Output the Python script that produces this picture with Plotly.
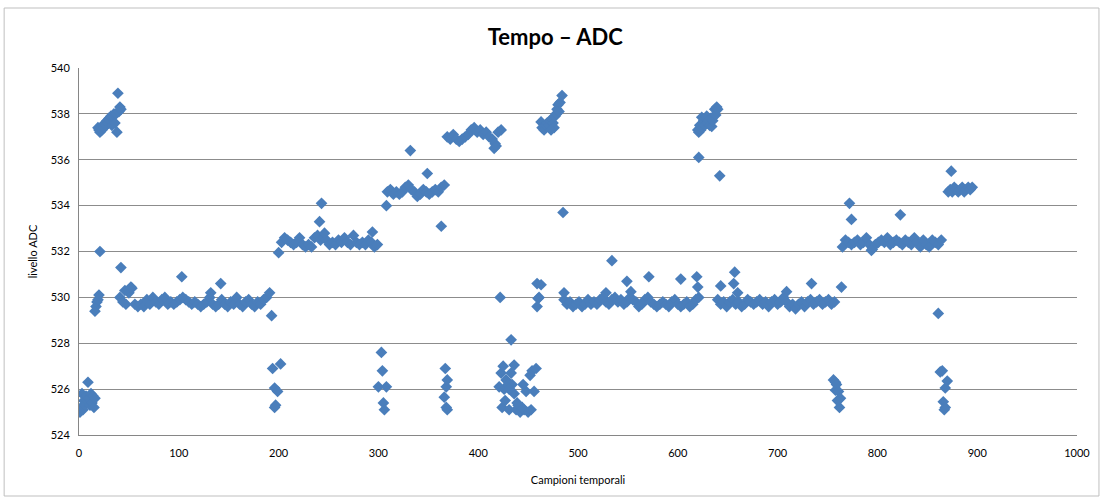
import plotly.graph_objects as go

# ---- data (sample index, ADC level) ----
low1_x = [1, 2, 3, 4, 5, 6, 7, 8, 9, 10, 11, 12, 13, 14, 15, 16]
low1_y = [525.0, 525.2, 525.8, 525.1, 525.5, 525.3, 525.7, 525.5, 526.3, 525.6, 525.3, 525.8, 525.4, 525.7, 525.2, 525.6]

rise1_x = [16, 17, 18, 19, 20, 21]
rise1_y = [529.4, 529.6, 529.8, 529.9, 530.1, 532.0]

high1_x = [19, 20, 21, 22, 23, 24, 25, 26, 27, 28, 29, 30, 31, 32, 33, 34, 35, 36, 37, 38, 39, 40, 41, 42]
high1_y = [537.4, 537.3, 537.2, 537.4, 537.3, 537.5, 537.4, 537.6, 537.5, 537.7, 537.6, 537.8, 537.7, 537.9, 537.5, 537.9, 538.0, 537.6, 538.0, 537.2, 538.9, 538.1, 538.3, 538.2]

band1_x = [41, 44, 47, 50, 53, 56, 59, 62, 65, 68, 71, 74, 77, 80, 83, 86, 89, 92, 95, 98,
           101, 104, 107, 110, 113, 116, 119, 122, 125, 128, 131, 134, 137, 140, 143, 146, 149,
           152, 155, 158, 161, 164, 167, 170, 173, 176, 179, 182, 185, 188]
band1_y = [530.0, 529.8, 529.7, 530.2, 530.4, 529.7, 529.6, 529.7, 529.6, 529.9, 529.7, 530.0, 529.8, 529.7,
           529.9, 530.0, 529.7, 529.8, 529.7, 529.8, 529.9, 530.0, 529.9, 529.8, 529.7, 529.8, 529.7, 529.6,
           529.7, 529.8, 530.0, 529.7, 529.6, 529.7, 529.9, 529.7, 529.6, 529.8, 529.7, 530.0, 529.7, 529.6,
           529.8, 529.9, 529.7, 529.6, 529.8, 529.7, 529.9, 530.0]
out1_x = [42, 46, 52, 103, 132, 142, 191, 193]
out1_y = [531.3, 530.3, 530.45, 530.9, 530.2, 530.6, 530.2, 529.2]

low2_x = [194, 196, 197, 199, 196, 202]
low2_y = [526.9, 526.05, 525.3, 525.9, 525.2, 527.1]

band2_x = [200, 203, 206, 209, 212, 215, 218, 221, 224, 227, 230, 233, 236, 239, 242, 245, 248,
           251, 254, 257, 260, 263, 266, 269, 272, 275, 278, 281, 284, 287, 290, 293, 296, 299]
band2_y = [531.95, 532.4, 532.6, 532.5, 532.4, 532.3, 532.4, 532.6, 532.3, 532.2, 532.3, 532.2, 532.6,
           532.7, 532.5, 532.6, 532.5, 532.3, 532.4, 532.3, 532.5, 532.4, 532.6, 532.4, 532.3, 532.7,
           532.4, 532.3, 532.4, 532.3, 532.5, 532.4, 532.2, 532.3]
out2_x = [241, 243, 246, 294]
out2_y = [533.3, 534.1, 532.8, 532.85]

low3_x = [300, 303, 304, 305, 306, 308]
low3_y = [526.1, 527.6, 526.8, 525.4, 525.1, 526.1]

band3_x = [309, 312, 315, 318, 321, 324, 327, 330, 333, 336, 339, 342, 345, 348, 351, 354, 357, 360, 363, 366]
band3_y = [534.6, 534.7, 534.5, 534.6, 534.5, 534.6, 534.8, 534.9, 534.7, 534.6, 534.4, 534.5, 534.7,
           534.6, 534.5, 534.6, 534.7, 534.6, 534.8, 534.9]
out3_x = [308, 332, 349, 363]
out3_y = [534.0, 536.4, 535.4, 533.1]

low4_x = [366, 367, 368, 369, 368, 369]
low4_y = [525.65, 526.9, 526.1, 526.4, 525.2, 525.1]

band4_x = [369, 372, 375, 378, 381, 384, 387, 390, 393, 396, 399, 402, 405, 408, 411, 414, 417, 420, 423]
band4_y = [537.0, 536.9, 537.1, 536.9, 536.8, 536.9, 537.0, 537.1, 537.3, 537.4, 537.2, 537.3, 537.1,
           537.2, 537.0, 536.9, 536.7, 537.2, 537.3]
out4_x = [416, 418, 422, 433]
out4_y = [536.5, 536.6, 530.0, 528.15]

low5_x = [421, 423, 425, 424, 426, 428, 431, 430, 434, 436, 438, 440, 442, 444, 446, 448, 452, 454,
          456, 458, 436, 433, 431, 445, 450, 453, 427, 439]
low5_y = [526.1, 526.7, 527.0, 525.2, 526.0, 526.4, 525.1, 526.2, 526.2, 525.8, 525.1, 525.3, 525.0,
          525.2, 525.1, 525.9, 526.6, 526.8, 525.9, 526.9, 527.05, 526.7, 526.0, 526.2, 525.0, 525.1,
          525.5, 525.4]

mid5_x = [459, 463, 460, 459, 461]
mid5_y = [530.6, 530.55, 529.95, 529.6, 530.0]

high2_x = [463, 464, 466, 468, 469, 471, 472, 474, 475, 477, 478, 479, 480, 481, 482, 484, 476, 473]
high2_y = [537.65, 537.4, 537.3, 537.5, 537.6, 537.5, 537.7, 537.8, 537.6, 537.9, 538.0, 538.2, 538.4,
           538.1, 538.5, 538.8, 537.4, 537.3]

band5_x = [486, 489, 492, 495, 498, 501, 504, 507, 510, 513, 516, 519, 522, 525, 528, 531, 534, 537,
           540, 543, 546, 549, 552, 555, 558, 561, 564, 567, 570, 573, 576, 579, 582, 585, 588, 591,
           594, 597, 600, 603, 606, 609, 612, 615, 618, 621]
band5_y = [529.9, 529.7, 529.8, 529.6, 529.7, 529.8, 529.6, 529.7, 529.9, 529.7, 529.8, 529.7, 529.9,
           530.0, 529.8, 529.7, 529.9, 530.0, 529.8, 529.9, 529.7, 529.8, 530.0, 529.9, 529.8, 529.6,
           529.7, 529.9, 530.0, 529.8, 529.7, 529.6, 529.7, 529.8, 529.7, 529.6, 529.8, 529.9, 529.7,
           529.6, 529.7, 529.8, 529.6, 529.7, 529.9, 530.0]
out5_x = [485, 486, 528, 534, 549, 553, 571, 603, 619, 620]
out5_y = [533.7, 530.2, 530.2, 531.6, 530.7, 530.25, 530.9, 530.8, 530.9, 530.45]

high3_x = [620, 621, 622, 623, 624, 625, 626, 627, 628, 629, 630, 631, 632, 633, 634, 635, 636, 637,
           638, 639, 640]
high3_y = [537.3, 537.2, 537.5, 537.3, 537.85, 537.6, 537.7, 537.5, 537.8, 537.9, 537.6, 537.7, 537.5,
           537.8, 537.45, 537.7, 537.9, 538.2, 537.95, 538.3, 538.2]
out6_x = [621, 642]
out6_y = [536.1, 535.3]

band6_x = [640, 643, 646, 649, 652, 655, 658, 661, 664, 667, 670, 673, 676, 679, 682, 685, 688, 691,
           694, 697, 700, 703, 706, 709, 712, 715, 718, 721, 724, 727, 730, 733, 736, 739, 742, 745,
           748, 751, 754, 757]
band6_y = [529.9, 529.7, 529.8, 529.6, 529.8, 529.9, 529.7, 529.8, 529.6, 529.7, 529.9, 529.8, 529.7,
           529.8, 529.9, 529.7, 529.8, 529.6, 529.8, 529.9, 529.7, 529.8, 530.0, 529.8, 529.6, 529.7,
           529.5, 529.7, 529.8, 529.6, 529.8, 529.9, 529.7, 529.8, 529.9, 529.7, 529.8, 529.9, 529.7,
           529.8]
out7_x = [643, 656, 657, 660, 709, 734, 764]
out7_y = [530.5, 530.6, 531.1, 530.2, 530.25, 530.6, 530.45]

low6_x = [756, 758, 759, 758, 761, 763, 762, 760]
low6_y = [526.4, 526.3, 526.2, 525.95, 525.9, 525.6, 525.2, 525.5]

band7_x = [765, 768, 771, 774, 777, 780, 783, 786, 789, 792, 795, 798, 801, 804, 807, 810, 813, 816,
           819, 822, 825, 828, 831, 834, 837, 840, 843, 846, 849, 852, 855, 858, 861, 864]
band7_y = [532.2, 532.5, 532.4, 532.3, 532.4, 532.5, 532.3, 532.4, 532.6, 532.3, 532.1, 532.3, 532.4,
           532.5, 532.4, 532.6, 532.3, 532.4, 532.5, 532.4, 532.3, 532.5, 532.4, 532.3, 532.6, 532.4,
           532.2, 532.5, 532.3, 532.2, 532.5, 532.4, 532.3, 532.5]
out8_x = [772, 774, 823, 794]
out8_y = [534.1, 533.4, 533.6, 532.05]

low7_x = [861, 863, 865, 870, 868, 866, 868, 867]
low7_y = [529.3, 526.75, 526.8, 526.35, 526.05, 525.45, 525.2, 525.1]

band8_x = [871, 873, 875, 877, 879, 881, 883, 885, 887, 889, 891, 893, 895]
band8_y = [534.6, 534.7, 534.6, 534.8, 534.7, 534.6, 534.7, 534.8, 534.6, 534.7, 534.8, 534.7, 534.8]
out9_x = [874]
out9_y = [535.5]

segments_x = [low1_x, rise1_x, high1_x, band1_x, out1_x, low2_x, band2_x, out2_x, low3_x, band3_x,
              out3_x, low4_x, band4_x, out4_x, low5_x, mid5_x, high2_x, band5_x, out5_x, high3_x,
              out6_x, band6_x, out7_x, low6_x, band7_x, out8_x, low7_x, band8_x, out9_x]
segments_y = [low1_y, rise1_y, high1_y, band1_y, out1_y, low2_y, band2_y, out2_y, low3_y, band3_y,
              out3_y, low4_y, band4_y, out4_y, low5_y, mid5_y, high2_y, band5_y, out5_y, high3_y,
              out6_y, band6_y, out7_y, low6_y, band7_y, out8_y, low7_y, band8_y, out9_y]

xs, ys = [], []
for sx, sy in zip(segments_x, segments_y):
    xs.extend(sx)
    ys.extend(sy)

FONT = "Lato"
fig = go.Figure()
fig.add_trace(go.Scatter(
    x=xs, y=ys, mode="markers",
    marker=dict(symbol="diamond", size=9, color="#4A7EBB", line=dict(width=0)),
    showlegend=False, hoverinfo="x+y"))

fig.update_layout(
    width=1102, height=497,
    margin=dict(l=79, r=23, t=68, b=62),
    paper_bgcolor="white", plot_bgcolor="white",
    title=dict(text="<b>Tempo – ADC</b>", x=0.5039, xanchor="center", y=1 - 37 / 497, yanchor="middle",
               font=dict(family=FONT, size=22, color="#000000")),
    font=dict(family=FONT, size=11, color="#000000"),
    xaxis=dict(range=[0, 1000], dtick=100, tick0=0, showgrid=False, zeroline=False,
               showline=True, linecolor="#868686", linewidth=1, ticks="",
               ticklabelstandoff=8,
               title=dict(text="Campioni temporali", font=dict(family=FONT, size=11), standoff=18),
               tickfont=dict(family=FONT, size=11, color="#000000")),
    yaxis=dict(range=[524, 540], dtick=2, tick0=524, showgrid=True, gridcolor="#8C8C8C", gridwidth=1,
               zeroline=False, showline=True, linecolor="#868686", linewidth=1, ticks="",
               ticklabelstandoff=6,
               title=dict(text="livello ADC", font=dict(family=FONT, size=11), standoff=10),
               tickfont=dict(family=FONT, size=11, color="#000000")),
    shapes=[dict(type="rect", xref="paper", yref="paper",
                 x0=(4 - 79) / 1000, x1=(1101 - 79) / 1000,
                 y0=(435 - 496) / 367, y1=(435 - 8) / 367,
                 line=dict(color="#BFBFBF", width=1), fillcolor="rgba(0,0,0,0)", layer="below")],
)

fig.write_html("out.html")
